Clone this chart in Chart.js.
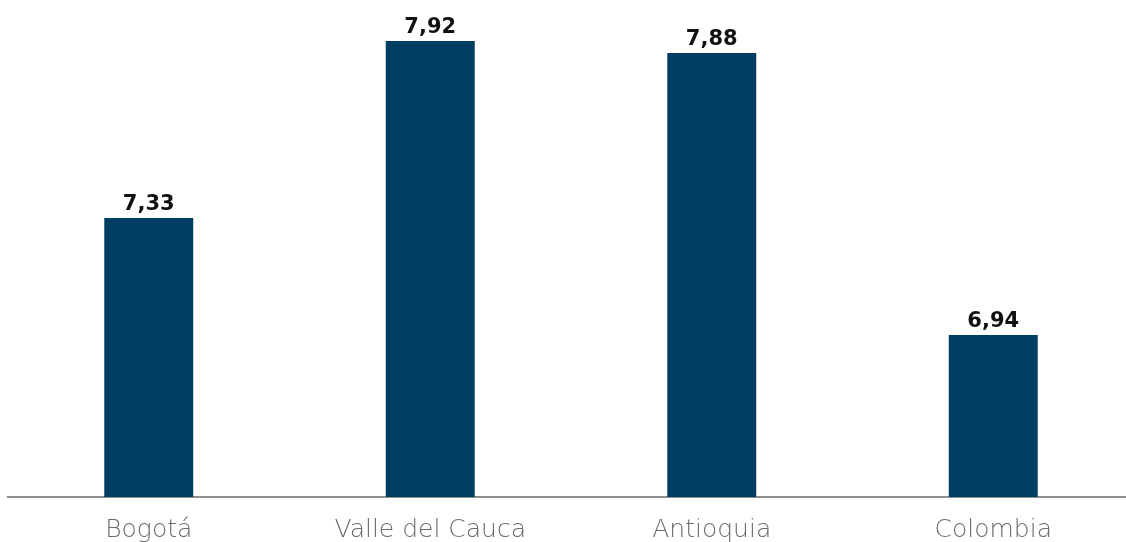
<!DOCTYPE html>
<html>
<head>
<meta charset="utf-8">
<script src="https://cdn.jsdelivr.net/npm/chart.js@4"></script>
<style>
  html, body { margin: 0; padding: 0; background: #fff; overflow: hidden; }
  #wrap { width: 1134px; height: 542px; position: relative; }
</style>
</head>
<body>
<div id="wrap"><canvas id="grafico"></canvas></div>
<script>
const regiones = ['Bogotá', 'Valle del Cauca', 'Antioquia', 'Colombia'];
const valores = [7.33, 7.92, 7.88, 6.94];

// etiquetas encima de cada barra, con coma decimal
const etiquetasBarras = {
  id: 'etiquetasBarras',
  afterDatasetsDraw(chart) {
    const { ctx } = chart;
    const meta = chart.getDatasetMeta(0);
    ctx.save();
    ctx.font = 'bold 21px "DejaVu Sans", sans-serif';
    ctx.fillStyle = '#111';
    ctx.textAlign = 'center';
    ctx.textBaseline = 'alphabetic';
    meta.data.forEach((bar, i) => {
      const texto = valores[i].toFixed(2).replace('.', ',');
      ctx.fillText(texto, bar.x, bar.y - 8);
    });
    ctx.restore();
  }
};

new Chart(document.getElementById('grafico'), {
  type: 'bar',
  data: {
    labels: regiones,
    datasets: [{
      data: valores,
      backgroundColor: '#003d63',
      barPercentage: 0.316,
      categoryPercentage: 1
    }]
  },
  options: {
    responsive: true,
    maintainAspectRatio: false,
    animation: false,
    layout: { padding: { left: 8, right: 0, top: 17, bottom: 0 } },
    plugins: { legend: { display: false }, tooltip: { enabled: false } },
    scales: {
      x: {
        grid: { display: false, drawTicks: false },
        border: { display: true, color: '#8f8f8f', width: 2 },
        ticks: {
          color: '#6b6b6b',
          padding: 18,
          font: { family: '"DejaVu Sans", sans-serif', size: 25, weight: 200 }
        },
        afterFit(scale) { scale.height = 45; }
      },
      y: {
        display: false,
        min: 6.4,
        max: 8.0
      }
    }
  },
  plugins: [etiquetasBarras]
});
</script>
</body>
</html>
